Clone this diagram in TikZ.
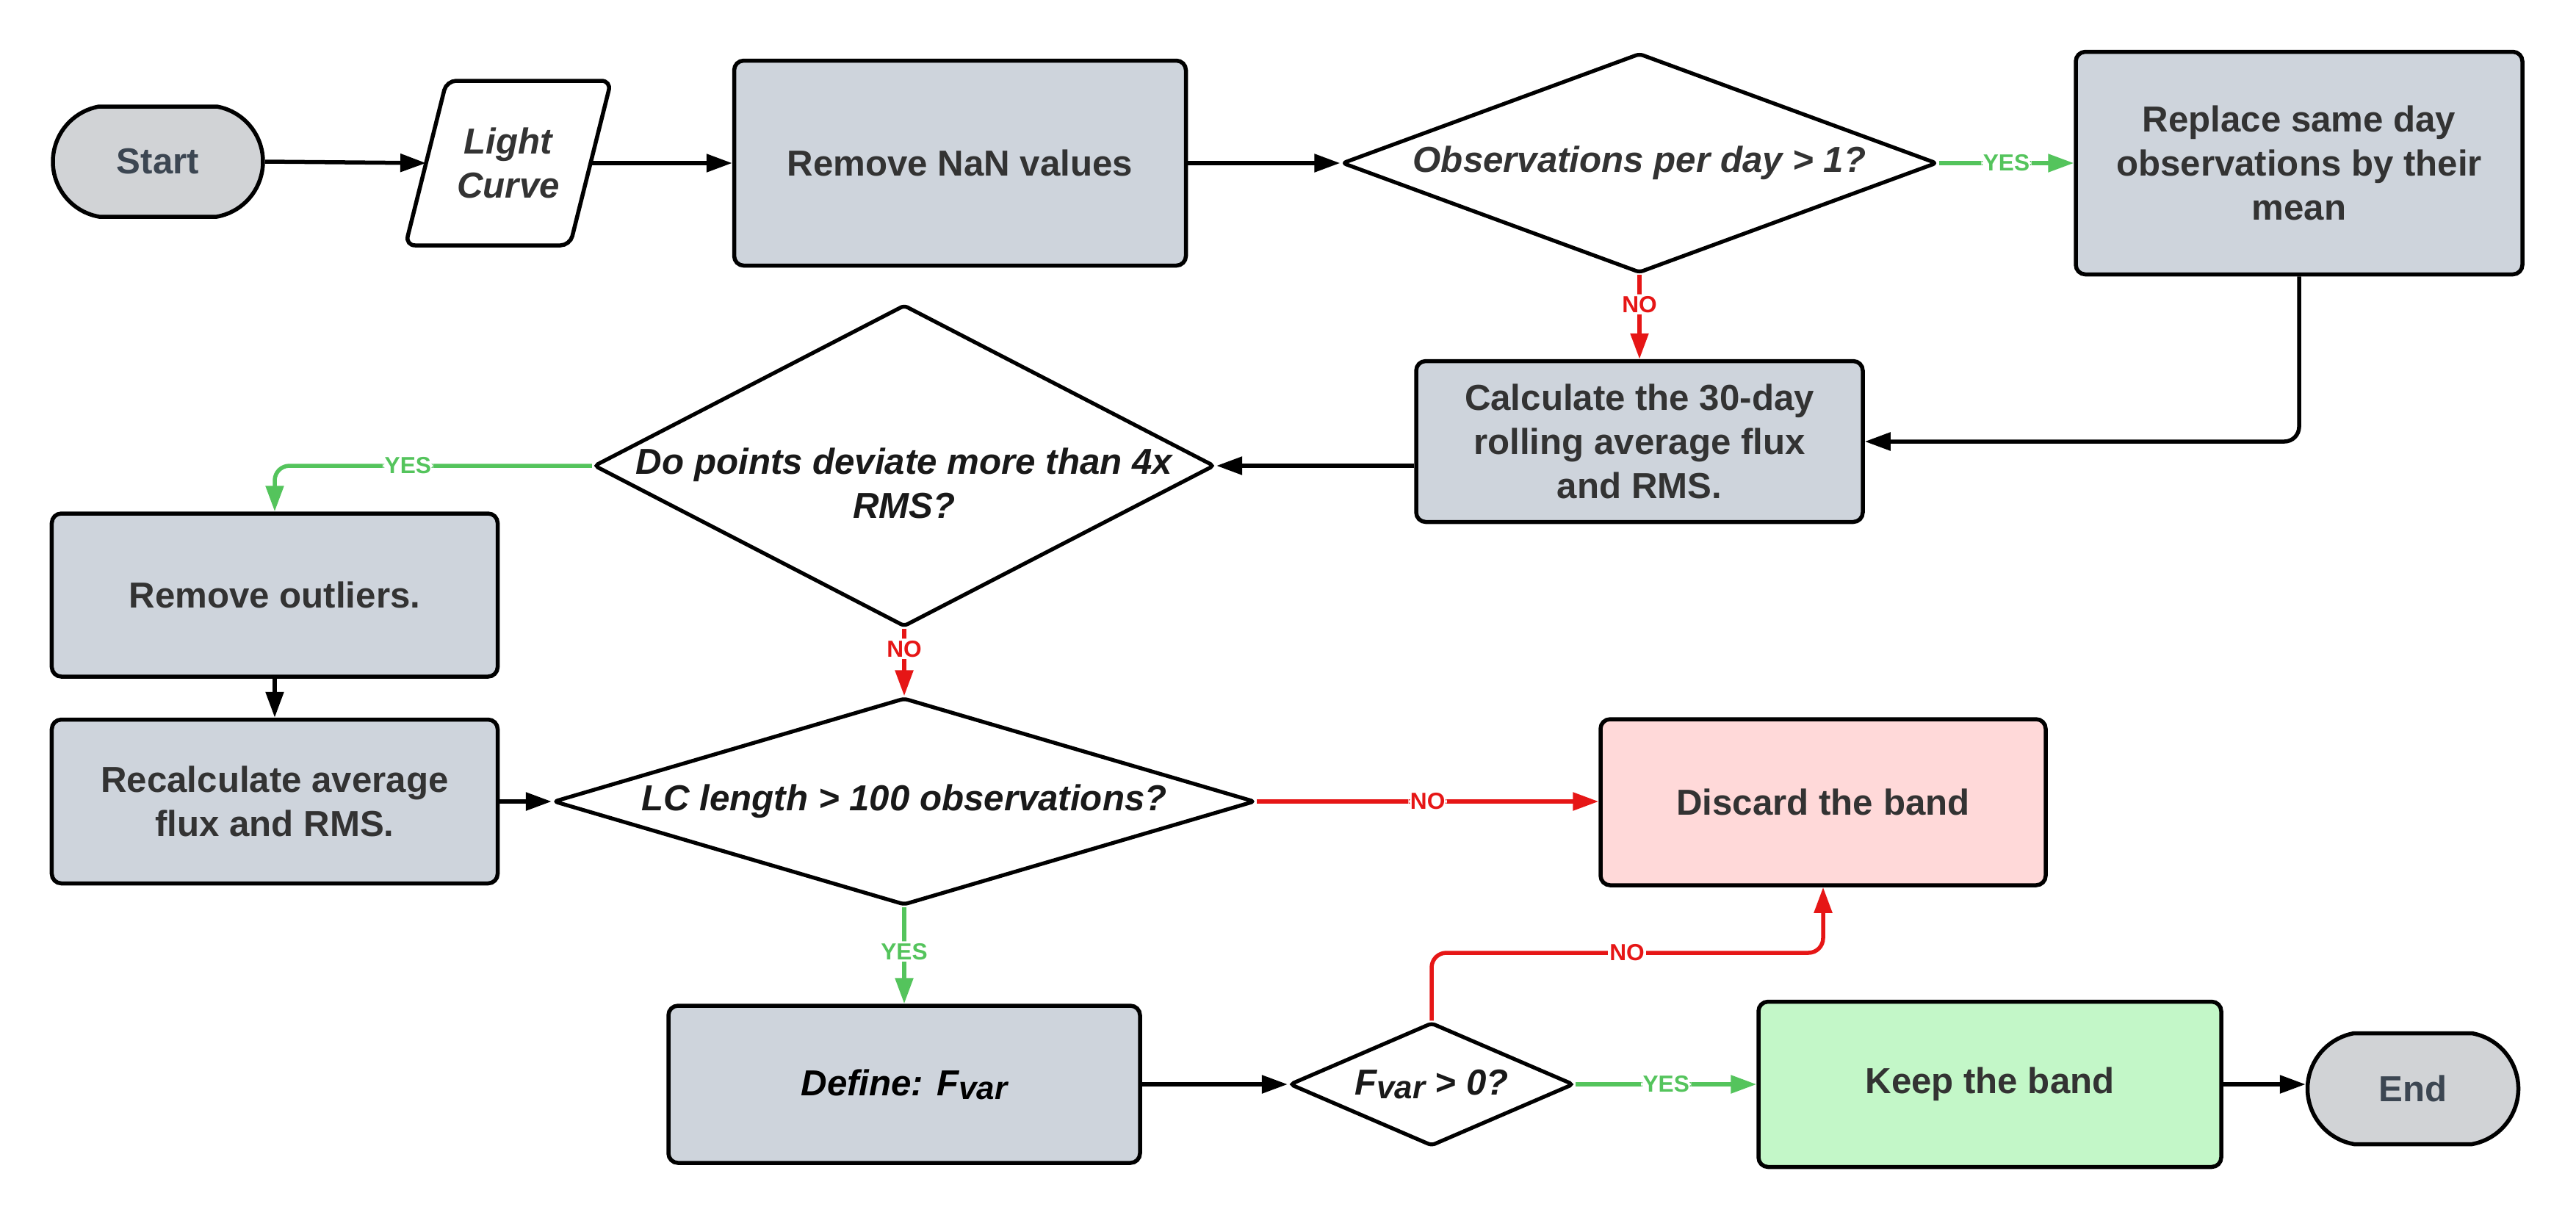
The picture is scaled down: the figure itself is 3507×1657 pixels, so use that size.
\documentclass[tikz,border=0pt]{standalone}
\usepackage{fontspec}
\setmainfont{Liberation Sans}
\usetikzlibrary{shapes.geometric,shapes.misc,arrows.meta,calc}
\definecolor{boxfill}{RGB}{206,212,220}
\definecolor{termfill}{RGB}{209,211,214}
\definecolor{termtxt}{RGB}{60,70,82}
\definecolor{txt}{RGB}{51,51,51}
\definecolor{disfill}{RGB}{255,217,217}
\definecolor{keepfill}{RGB}{195,247,200}
\definecolor{ygreen}{RGB}{84,196,92}
\definecolor{nred}{RGB}{230,22,22}
\newcommand\fvsub{\raisebox{-0.2ex}{\fontsize{25}{25}\selectfont var}}
\begin{document}
\begin{tikzpicture}[x=0.2mm,y=-0.2mm,
 bigfont/.style={font=\bfseries\fontsize{28}{34}\selectfont},
 procbox/.style={draw=black,line width=1.1mm,rounded corners=2.6mm,fill=boxfill,text=txt,align=center,inner sep=0pt,bigfont},
 termbox/.style={rounded rectangle,rounded rectangle arc length=160,draw=black,line width=1.1mm,fill=termfill,text=termtxt,bigfont,inner sep=0pt},
 decbox/.style={diamond,draw=black,line width=1.05mm,fill=white,inner sep=0pt,rounded corners=1mm},
 dectext/.style={font=\bfseries\itshape\fontsize{28}{34}\selectfont,align=center,text=black!90,inner sep=0pt},
 conn/.style={line width=1.1mm,-{Triangle[length=7mm,width=4.8mm]},rounded corners=4mm},
 lbl/.style={font=\bfseries\fontsize{18}{18}\selectfont,fill=white,inner sep=0.5mm},
]
\fill[white] (0,0) rectangle (3507,1657);

% nodes
\node[termbox,minimum width=57.2mm,minimum height=30mm] (start) at (215,220) {Start};
\node[inner sep=0pt,outer sep=0pt,minimum width=44.8mm,minimum height=45mm,align=center,
      font=\bfseries\itshape\fontsize{28}{34}\selectfont,text=txt] (lc) at (692,222) {Light\\Curve};
\draw[line width=1.1mm,rounded corners=2.6mm] ($(lc.center)+(-84,-112)$) -- ($(lc.center)+(140,-112)$)
   -- ($(lc.center)+(84,112)$) -- ($(lc.center)+(-140,112)$) -- cycle;
\node[procbox,minimum width=123mm,minimum height=55.8mm] (nan) at (1307,222) {Remove NaN values};
\node[decbox,minimum width=162mm,minimum height=59.8mm] (obs) at (2232,222) {};
\node[dectext,text=txt] (obsT) at (obs) {Observations per day > 1?};
\node[procbox,minimum width=121.6mm,minimum height=60.6mm] (rep) at (3130,222) {Replace same day\\observations by their\\mean};
\node[procbox,minimum width=121.6mm,minimum height=43.8mm] (calc) at (2232,601) {Calculate the 30-day\\rolling average flux\\and RMS.};
\node[decbox,minimum width=169mm,minimum height=87.6mm] (dp) at (1231,634) {};
\node[dectext] (dpT) at (1231,658) {Do points deviate more than 4x\\RMS?};
\node[procbox,minimum width=121.4mm,minimum height=44.4mm] (rmo) at (374,810) {Remove outliers.};
\node[procbox,minimum width=121.4mm,minimum height=44.6mm] (rec) at (374,1091) {Recalculate average\\flux and RMS.};
\node[decbox,minimum width=191mm,minimum height=56.4mm] (lcd) at (1231,1091) {};
\node[dectext] (lcdT) at (lcd) {LC length > 100 observations?};
\node[procbox,fill=disfill,minimum width=121.2mm,minimum height=45.2mm] (dis) at (2482,1092) {Discard the band};
\node[procbox,text=black,font=\bfseries\itshape\fontsize{28}{34}\selectfont,minimum width=128.4mm,minimum height=42.8mm] (def) at (1231,1476) {Define: F\fvsub};
\node[decbox,minimum width=77.4mm,minimum height=33.6mm] (fv) at (1949,1476) {};
\node[dectext] (fvT) at (fv) {F\fvsub{} > 0?};
\node[procbox,fill=keepfill,minimum width=126mm,minimum height=45mm] (keep) at (2709,1476) {Keep the band};
\node[termbox,minimum width=57.4mm,minimum height=30.2mm] (end) at (3285,1482) {End};

% connectors
\draw[conn] (start.east) -- (lc.west);
\draw[conn] (lc.east) -- (nan.west);
\draw[conn] (nan.east) -- (obs.west);
\draw[conn,ygreen] (obs.east) -- node[lbl,text=ygreen] (l1) {YES} (rep.west);
\draw[conn,nred] (obs.south) -- node[lbl,text=nred,pos=0.35] (l2) {NO} (calc.north);
\draw[conn] (rep.south) |- (calc.east);
\draw[conn] (calc.west |- dp.east) -- (dp.east);
\draw[conn,ygreen] (dp.west) -| node[lbl,text=ygreen,pos=0.29] (l3) {YES} (rmo.north);
\draw[conn,nred] (dp.south) -- node[lbl,text=nred,pos=0.3] (l4) {NO} (lcd.north);
\draw[conn] (rmo.south) -- (rec.north);
\draw[conn] (rec.east) -- (lcd.west);
\draw[conn,nred] (lcd.east) -- node[lbl,text=nred] (l5) {NO} (lcd.east -| dis.west);
\draw[conn,ygreen] (lcd.south) -- node[lbl,text=ygreen,pos=0.46] (l6) {YES} (def.north);
\draw[conn] (def.east) -- (fv.west);
\draw[conn,ygreen] (fv.east) -- node[lbl,text=ygreen] (l7) {YES} (keep.west);
\coordinate (nojog) at (2215,1297);
\draw[conn,nred] (fv.north) |- (nojog) -| (dis.south);
\node[lbl,text=nred] (l8) at (nojog) {NO};
\draw[conn] (keep.east) -- (keep.east -| end.west);
\end{tikzpicture}
\end{document}
